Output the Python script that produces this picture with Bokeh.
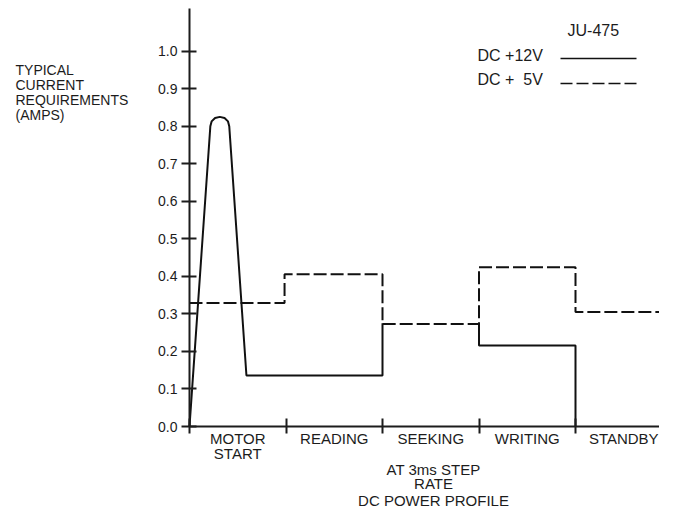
import numpy as np
from bokeh.plotting import figure
from bokeh.models import FixedTicker, Label, Range1d
from bokeh.embed import file_html
from bokeh.resources import INLINE

# ---------------- data ----------------
categories = ["MOTOR\nSTART", "READING", "SEEKING", "WRITING", "STANDBY"]
category_centers = [0.5, 1.5, 2.5, 3.5, 4.5]
category_bounds = [0, 1, 2, 3, 4, 5]
y_ticks = [0.0, 0.1, 0.2, 0.3, 0.4, 0.5, 0.6, 0.7, 0.8, 0.9, 1.0]
y_tick_labels = ["0.0", "0.1", "0.2", "0.3", "0.4", "0.5", "0.6", "0.7", "0.8", "0.9", "1.0"]

# DC +12V (solid); the SEEKING segment lies under the +5V line
x_12v = np.array([0.0, 0.216, 0.229, 0.265, 0.314, 0.363, 0.399, 0.412, 0.59, 2.0, 2.0, np.nan, 3.0, 3.0, 4.0, 4.0])
y_12v = np.array([0.0, 0.800, 0.813, 0.822, 0.825, 0.822, 0.813, 0.800, 0.136, 0.136, 0.275, np.nan, 0.275, 0.216, 0.216, 0.0])

# DC +5V (dashed)
x_5v = np.array([0.0, 0.985, 0.985, 2.0, 2.0, 3.0, 3.0, 4.0, 4.0, 5.0])
y_5v = np.array([0.329, 0.329, 0.406, 0.406, 0.273, 0.273, 0.424, 0.424, 0.305, 0.305])

# ---------------- layout ----------------
W, H = 659, 508
X0_PX, Y0_PX = 189.0, 426.0          # canvas px of the data origin
PX_PER_CAT, PX_PER_AMP = 96.5, 375.3
AXIS_TOP_PX = 8
BASELINE_FIX = 6                     # svg baseline correction, px

def dx(px):
    return (px - X0_PX) / PX_PER_CAT

def dy(py):
    return (Y0_PX - py) / PX_PER_AMP

FONT = "Liberation Sans"
INK = "#1c1c1c"
LINE = "#111111"

p = figure(width=W, height=H,
           x_range=Range1d(dx(0), dx(W)),
           y_range=Range1d(dy(H), dy(0)),
           min_border=0,
           output_backend="svg", toolbar_location=None)
p.outline_line_color = None
p.xgrid.visible = False
p.ygrid.visible = False
p.background_fill_color = "white"
p.border_fill_color = "white"

# y axis (crossing at x = 0)
ya = p.yaxis[0]
ya.fixed_location = 0
ya.bounds = (0, dy(AXIS_TOP_PX))
ya.ticker = FixedTicker(ticks=y_ticks)
ya.major_label_overrides = {t: l for t, l in zip(y_ticks, y_tick_labels)}
ya.axis_line_width = 2
ya.axis_line_color = INK
ya.major_tick_in = 7
ya.major_tick_out = 8
ya.major_tick_line_width = 2
ya.major_tick_line_color = INK
ya.minor_tick_line_color = None
ya.major_label_standoff = 4
ya.major_label_text_font = FONT
ya.major_label_text_font_size = "14px"
ya.major_label_text_color = INK

# x axis (crossing at y = 0)
xa = p.xaxis[0]
xa.fixed_location = 0
xa.bounds = (0, 5)
xa.ticker = FixedTicker(ticks=category_centers, minor_ticks=category_bounds)
xa.major_label_overrides = {c: l for c, l in zip(category_centers, categories)}
xa.axis_line_width = 2
xa.axis_line_color = INK
xa.major_tick_line_color = None
xa.major_tick_in = 0
xa.major_tick_out = 0
xa.minor_tick_in = 8
xa.minor_tick_out = 7
xa.minor_tick_line_width = 2
xa.minor_tick_line_color = INK
xa.major_label_standoff = -4
xa.major_label_text_font = FONT
xa.major_label_text_font_size = "15px"
xa.major_label_text_color = INK
xa.major_label_text_line_height = 0.9

# series
p.line(x_12v, y_12v, line_color=LINE, line_width=2)
p.line(x_5v, y_5v, line_color=LINE, line_width=2, line_dash="13 4")

# legend (label left, sample line right)
p.line([dx(560), dx(636)], [dy(58), dy(58)], line_color=LINE, line_width=1.6)
p.line([dx(560), dx(636)], [dy(83), dy(83)], line_color=LINE, line_width=1.6, line_dash="12 4")

def add_label(text, px, baseline_py, size="15px", align="left"):
    p.add_layout(Label(x=dx(px), y=dy(baseline_py - BASELINE_FIX), text=text,
                       text_font=FONT, text_font_size=size, text_color=INK,
                       text_align=align, text_baseline="alphabetic"))

add_label("JU-475", 567, 36, "16px")
add_label("DC +12V", 477, 61, "16px")
add_label("DC + \u00a05V", 477, 85, "16px")

for i, line in enumerate(["TYPICAL", "CURRENT", "REQUIREMENTS", "(AMPS)"]):
    add_label(line, 15, 75 + 15 * i, "14px")

add_label("AT 3ms STEP", 433, 475, "15px", "center")
add_label("RATE", 433, 489, "15px", "center")
add_label("DC POWER PROFILE", 433, 506, "15px", "center")

open("out.html", "w").write(file_html(p, INLINE))
